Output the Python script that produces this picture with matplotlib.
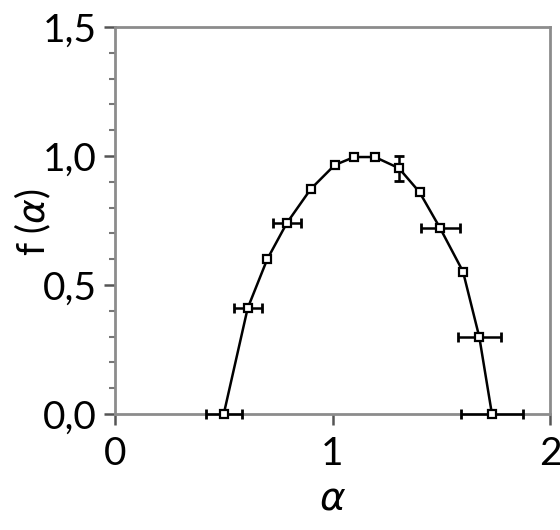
import numpy as np
import matplotlib.pyplot as plt
from matplotlib.ticker import MultipleLocator

# values
alpha = [0.50, 0.61, 0.70, 0.79, 0.90, 1.01, 1.10, 1.195, 1.305, 1.40, 1.495, 1.60, 1.675, 1.733]
f_alpha = [0.0, 0.41, 0.60, 0.74, 0.872, 0.965, 0.996, 0.996, 0.953, 0.86, 0.72, 0.552, 0.298, 0.0]
alpha_err = [0.083, 0.065, 0.0, 0.065, 0.0, 0.0, 0.0, 0.0, 0.0, 0.0, 0.09, 0.0, 0.10, 0.143]
f_err = [0.0, 0.0, 0.0, 0.0, 0.0, 0.0, 0.0, 0.0, 0.048, 0.0, 0.0, 0.0, 0.0, 0.0]

xticks = [0, 1, 2]
yticks = [0.0, 0.5, 1.0, 1.5]
ytick_labels = ["0,0", "0,5", "1,0", "1,5"]

plt.rcParams["font.family"] = ["Liberation Sans Narrow", "Lato", "DejaVu Sans"]

fig = plt.figure(figsize=(5.6, 5.3), dpi=100)
ax = fig.add_axes([115 / 560, 1 - 414 / 530, 435 / 560, 387 / 530])

ax.plot(alpha, f_alpha, color="black", lw=1.8, zorder=2, clip_on=False)

xe = np.array(alpha_err)
ye = np.array(f_err)
ax.errorbar(alpha, f_alpha, xerr=np.where(xe > 0, xe, np.nan), yerr=np.where(ye > 0, ye, np.nan),
            fmt="none", ecolor="black", elinewidth=1.8, capsize=3.5, capthick=2.0,
            zorder=3, clip_on=False)
ax.plot(alpha, f_alpha, linestyle="", marker="s", ms=6, mfc="white", mec="black",
        mew=1.6, zorder=4, clip_on=False)

ax.set_xlim(0, 2)
ax.set_ylim(0, 1.5)
ax.set_xticks(xticks)
ax.set_yticks(yticks)
ax.set_yticklabels(ytick_labels)
ax.yaxis.set_minor_locator(MultipleLocator(0.1))

for s in ax.spines.values():
    s.set_color("#8c8c8c")
    s.set_linewidth(2.0)

ax.tick_params(axis="both", which="major", direction="out", length=8, width=1.8,
               color="#555555", labelsize=28, pad=5)
ax.tick_params(axis="y", which="minor", direction="out", length=4, width=1.5,
               color="#777777")
ax.tick_params(axis="x", pad=8)

ax.set_xlabel(r"$\alpha$", fontsize=28, labelpad=6)
fig.text(33 / 560, 1 - 222 / 530, r"f ($\alpha$)", fontsize=27, rotation=90,
         ha="center", va="center")

fig.savefig("out.png", dpi=100)
